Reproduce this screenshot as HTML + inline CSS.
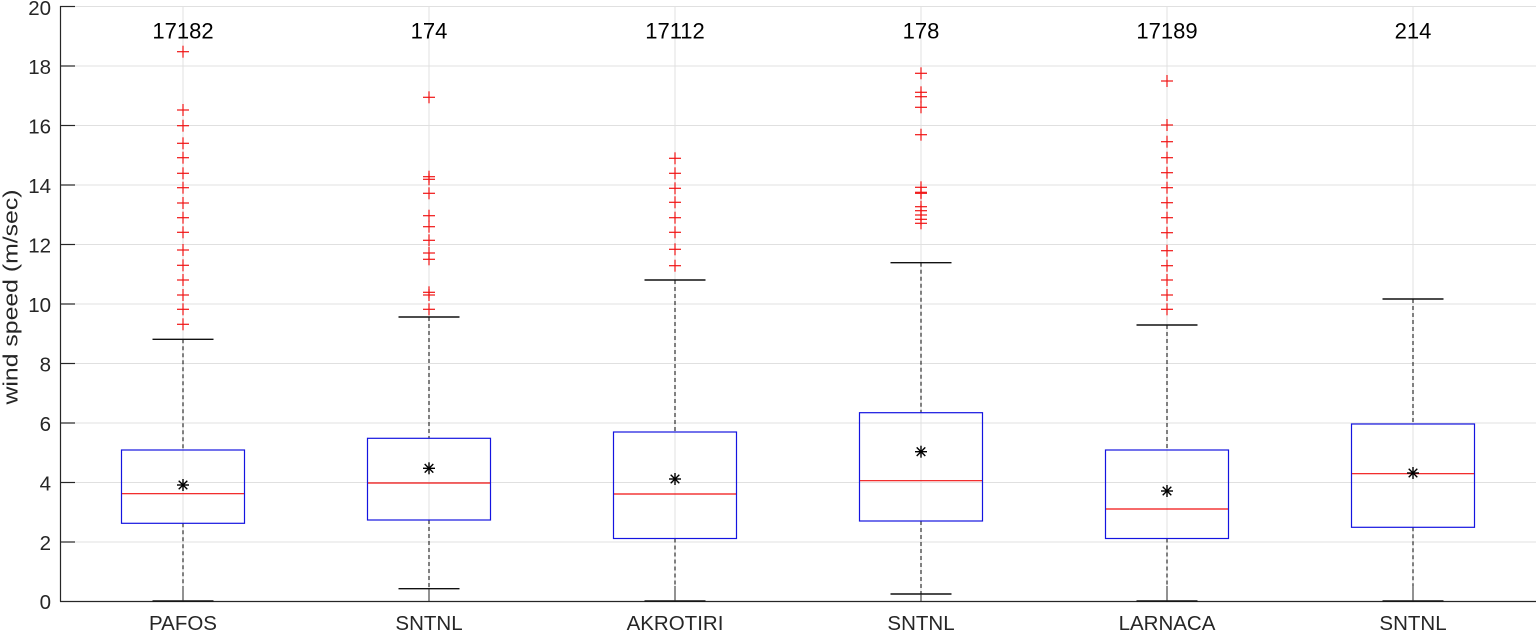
<!DOCTYPE html>
<html>
<head>
<meta charset="utf-8">
<style>
html,body{margin:0;padding:0;background:#fff;}
svg{display:block;}
text{font-family:"Liberation Sans",Arial,sans-serif;fill:#262626;}
</style>
</head>
<body>
<svg width="1536" height="631" viewBox="0 0 1536 631" xmlns="http://www.w3.org/2000/svg">
<!-- grid -->
<g stroke="#e0e0e0" stroke-width="1">
<line x1="60" y1="6.5" x2="1536" y2="6.5"/>
<line x1="60" y1="66" x2="1536" y2="66"/>
<line x1="60" y1="125.5" x2="1536" y2="125.5"/>
<line x1="60" y1="185" x2="1536" y2="185"/>
<line x1="60" y1="244.5" x2="1536" y2="244.5"/>
<line x1="60" y1="304" x2="1536" y2="304"/>
<line x1="60" y1="363.5" x2="1536" y2="363.5"/>
<line x1="60" y1="423" x2="1536" y2="423"/>
<line x1="60" y1="482.5" x2="1536" y2="482.5"/>
<line x1="60" y1="542" x2="1536" y2="542"/>
<line x1="183" y1="6" x2="183" y2="601"/>
<line x1="429" y1="6" x2="429" y2="601"/>
<line x1="675" y1="6" x2="675" y2="601"/>
<line x1="921" y1="6" x2="921" y2="601"/>
<line x1="1167" y1="6" x2="1167" y2="601"/>
<line x1="1413" y1="6" x2="1413" y2="601"/>
</g>
<!-- axes -->
<g stroke="#262626" stroke-width="1.2">
<line x1="60.5" y1="6" x2="60.5" y2="601.5"/>
<line x1="60" y1="601.5" x2="1536" y2="601.5"/>
<line x1="60" y1="6.5" x2="75" y2="6.5"/>
<line x1="60" y1="66" x2="75" y2="66"/>
<line x1="60" y1="125.5" x2="75" y2="125.5"/>
<line x1="60" y1="185" x2="75" y2="185"/>
<line x1="60" y1="244.5" x2="75" y2="244.5"/>
<line x1="60" y1="304" x2="75" y2="304"/>
<line x1="60" y1="363.5" x2="75" y2="363.5"/>
<line x1="60" y1="423" x2="75" y2="423"/>
<line x1="60" y1="482.5" x2="75" y2="482.5"/>
<line x1="60" y1="542" x2="75" y2="542"/>
</g>
<!-- tick labels -->
<g font-size="20.5" text-anchor="end">
<text x="51" y="15">20</text>
<text x="51" y="74">18</text>
<text x="51" y="133.5">16</text>
<text x="51" y="193">14</text>
<text x="51" y="252.5">12</text>
<text x="51" y="312">10</text>
<text x="51" y="371.5">8</text>
<text x="51" y="431">6</text>
<text x="51" y="490.5">4</text>
<text x="51" y="550">2</text>
<text x="51" y="609">0</text>
</g>
<text font-size="20" transform="translate(17.5,297) rotate(-90)" text-anchor="middle" textLength="215" lengthAdjust="spacingAndGlyphs">wind speed (m/sec)</text>
<!-- x labels -->
<g font-size="20.5" text-anchor="middle">
<text x="183" y="630">PAFOS</text>
<text x="429" y="630">SNTNL</text>
<text x="675" y="630">AKROTIRI</text>
<text x="921" y="630">SNTNL</text>
<text x="1167" y="630">LARNACA</text>
<text x="1413" y="630">SNTNL</text>
</g>
<!-- counts -->
<g font-size="22" text-anchor="middle">
<text x="183" y="38.5" style="fill:#000">17182</text>
<text x="429" y="38.5" style="fill:#000">174</text>
<text x="675" y="38.5" style="fill:#000">17112</text>
<text x="921" y="38.5" style="fill:#000">178</text>
<text x="1167" y="38.5" style="fill:#000">17189</text>
<text x="1413" y="38.5" style="fill:#000">214</text>
</g>

<!-- whiskers (dashed) -->
<g stroke="#000" stroke-width="1" stroke-dasharray="4 3">
<line x1="183" y1="339.3" x2="183" y2="450"/><line x1="183" y1="523.3" x2="183" y2="601"/>
<line x1="429" y1="317" x2="429" y2="438.3"/><line x1="429" y1="520" x2="429" y2="588.7"/>
<line x1="675" y1="280" x2="675" y2="432"/><line x1="675" y1="538.5" x2="675" y2="601"/>
<line x1="921" y1="262.7" x2="921" y2="412.7"/><line x1="921" y1="521" x2="921" y2="594"/>
<line x1="1167" y1="325" x2="1167" y2="450"/><line x1="1167" y1="538.5" x2="1167" y2="601"/>
<line x1="1413" y1="299" x2="1413" y2="424"/><line x1="1413" y1="527.3" x2="1413" y2="601"/>
</g>
<!-- caps -->
<g stroke="#111" stroke-width="1.4">
<line x1="152.5" y1="339.3" x2="213.5" y2="339.3"/><line x1="152.5" y1="601" x2="213.5" y2="601"/>
<line x1="398.5" y1="317" x2="459.5" y2="317"/><line x1="398.5" y1="588.7" x2="459.5" y2="588.7"/>
<line x1="644.5" y1="280" x2="705.5" y2="280"/><line x1="644.5" y1="601" x2="705.5" y2="601"/>
<line x1="890.5" y1="262.7" x2="951.5" y2="262.7"/><line x1="890.5" y1="594" x2="951.5" y2="594"/>
<line x1="1136.5" y1="325" x2="1197.5" y2="325"/><line x1="1136.5" y1="601" x2="1197.5" y2="601"/>
<line x1="1382.5" y1="299" x2="1443.5" y2="299"/><line x1="1382.5" y1="601" x2="1443.5" y2="601"/>
</g>
<!-- x ticks -->
<g stroke="#262626" stroke-width="1">
<line x1="183" y1="586" x2="183" y2="601"/>
<line x1="429" y1="589" x2="429" y2="601"/>
<line x1="675" y1="586" x2="675" y2="601"/>
<line x1="921" y1="594" x2="921" y2="601"/>
<line x1="1167" y1="586" x2="1167" y2="601"/>
<line x1="1413" y1="586" x2="1413" y2="601"/>
</g>
<!-- boxes -->
<g stroke="#1414e0" stroke-width="1.2" fill="none">
<rect x="121.5" y="450" width="123" height="73.3"/>
<rect x="367.5" y="438.3" width="123" height="81.7"/>
<rect x="613.5" y="432" width="123" height="106.5"/>
<rect x="859.5" y="412.7" width="123" height="108.3"/>
<rect x="1105.5" y="450" width="123" height="88.5"/>
<rect x="1351.5" y="424" width="123" height="103.3"/>
</g>
<!-- medians -->
<g stroke="#f01010" stroke-width="1.2">
<line x1="122" y1="493.7" x2="244" y2="493.7"/>
<line x1="368" y1="483" x2="490" y2="483"/>
<line x1="614" y1="494" x2="736" y2="494"/>
<line x1="860" y1="480.7" x2="982" y2="480.7"/>
<line x1="1106" y1="509" x2="1228" y2="509"/>
<line x1="1352" y1="473.7" x2="1474" y2="473.7"/>
</g>
<!-- means (asterisk) -->
<defs>
<g id="st" stroke="#000" stroke-width="1.4">
<line x1="-6" y1="0" x2="6" y2="0"/>
<line x1="0" y1="-6" x2="0" y2="6"/>
<line x1="-4.3" y1="-4.3" x2="4.3" y2="4.3"/>
<line x1="-4.3" y1="4.3" x2="4.3" y2="-4.3"/>
</g>
<g id="pl" stroke="#f01414" stroke-width="1.2">
<line x1="-6" y1="0" x2="6" y2="0"/>
<line x1="0" y1="-6" x2="0" y2="6"/>
</g>
</defs>
<use href="#st" x="183" y="485"/>
<use href="#st" x="429" y="468.3"/>
<use href="#st" x="675" y="479"/>
<use href="#st" x="921" y="451.7"/>
<use href="#st" x="1167" y="491"/>
<use href="#st" x="1413" y="473"/>
<!-- outliers -->
<g>
<use href="#pl" x="183" y="51.7"/><use href="#pl" x="183" y="110"/><use href="#pl" x="183" y="125.7"/><use href="#pl" x="183" y="143.3"/>
<use href="#pl" x="183" y="157.7"/><use href="#pl" x="183" y="173.3"/><use href="#pl" x="183" y="187.7"/><use href="#pl" x="183" y="203"/>
<use href="#pl" x="183" y="217.7"/><use href="#pl" x="183" y="232.3"/><use href="#pl" x="183" y="250"/><use href="#pl" x="183" y="265.3"/>
<use href="#pl" x="183" y="280"/><use href="#pl" x="183" y="295"/><use href="#pl" x="183" y="309.3"/><use href="#pl" x="183" y="324.3"/>

<use href="#pl" x="429" y="97.3"/><use href="#pl" x="429" y="176.7"/><use href="#pl" x="429" y="179.3"/><use href="#pl" x="429" y="193.3"/>
<use href="#pl" x="429" y="215.7"/><use href="#pl" x="429" y="226.7"/><use href="#pl" x="429" y="240.3"/><use href="#pl" x="429" y="253"/>
<use href="#pl" x="429" y="259.3"/><use href="#pl" x="429" y="292.3"/><use href="#pl" x="429" y="295"/><use href="#pl" x="429" y="309.3"/>

<use href="#pl" x="675" y="158.3"/><use href="#pl" x="675" y="173.3"/><use href="#pl" x="675" y="188.3"/><use href="#pl" x="675" y="202.3"/>
<use href="#pl" x="675" y="217.7"/><use href="#pl" x="675" y="232.3"/><use href="#pl" x="675" y="249.3"/><use href="#pl" x="675" y="265.7"/>

<use href="#pl" x="921" y="73.3"/><use href="#pl" x="921" y="92.3"/><use href="#pl" x="921" y="96.7"/><use href="#pl" x="921" y="107.3"/>
<use href="#pl" x="921" y="134.7"/><use href="#pl" x="921" y="187.3"/><use href="#pl" x="921" y="192.3"/><use href="#pl" x="921" y="193.3"/>
<use href="#pl" x="921" y="206.7"/><use href="#pl" x="921" y="210.7"/><use href="#pl" x="921" y="215"/><use href="#pl" x="921" y="219.3"/>
<use href="#pl" x="921" y="223.3"/>

<use href="#pl" x="1167" y="81"/><use href="#pl" x="1167" y="125"/><use href="#pl" x="1167" y="141.7"/><use href="#pl" x="1167" y="157.7"/>
<use href="#pl" x="1167" y="172.7"/><use href="#pl" x="1167" y="187.7"/><use href="#pl" x="1167" y="202.7"/><use href="#pl" x="1167" y="217.7"/>
<use href="#pl" x="1167" y="232.7"/><use href="#pl" x="1167" y="250.7"/><use href="#pl" x="1167" y="265.7"/><use href="#pl" x="1167" y="280"/>
<use href="#pl" x="1167" y="295"/><use href="#pl" x="1167" y="309.3"/>
</g>
</svg>
</body>
</html>
